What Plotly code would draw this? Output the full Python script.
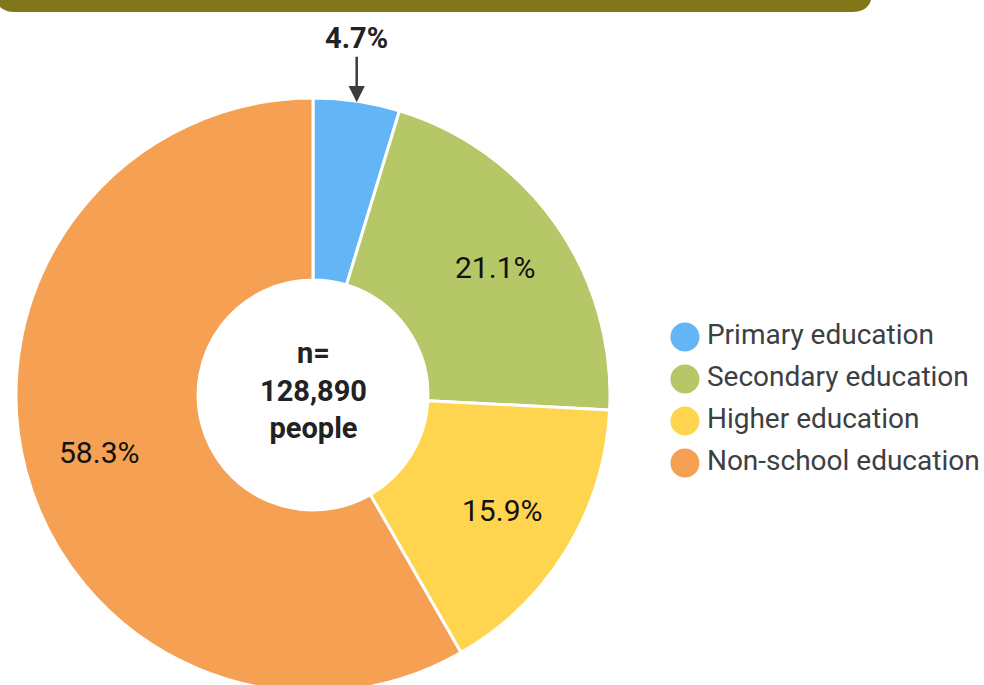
import math
import plotly.graph_objects as go

# ---- data ----
categories = ["Primary education", "Secondary education", "Higher education", "Non-school education"]
shares = [4.7, 21.1, 15.9, 58.3]
colors = ["#64B5F6", "#B5C766", "#FFD54F", "#F5A052"]
center_label = "n=<br>128,890<br>people"

W, H = 984, 700


def px(x):
    return x / W


def py(y):
    return 1 - y / H


cx, cy, r = 313, 395, 297

fig = go.Figure()
fig.add_trace(go.Pie(
    labels=categories, values=shares, sort=False, direction="clockwise", rotation=0,
    hole=0.387, marker=dict(colors=colors, line=dict(color="white", width=3)),
    textinfo="none",
    domain=dict(x=[px(cx - r), px(cx + r)], y=[py(cy + r), py(cy - r)]),
    showlegend=False, hoverinfo="label+percent",
))

# legend drawn as a scatter with big circle markers
fig.add_trace(go.Scatter(
    x=[0] * len(categories), y=categories, mode="markers+text",
    marker=dict(size=29, color=colors), text=["\u200a" + c for c in categories],
    textposition="middle right",
    textfont=dict(family="Roboto", size=28, color="#3C4043"),
    showlegend=False, hoverinfo="skip", cliponaxis=False,
))

# slice labels positioned along each slice's mid angle (computed from the data)
total = sum(shares)
cum = 0.0
for v in shares:
    mid = math.radians(360 * (cum + v / 2) / total)
    cum += v
    if v < 10:
        continue
    lr = 222
    fig.add_annotation(
        x=px(cx + lr * math.sin(mid)), y=py(cy - lr * math.cos(mid)), xref="paper", yref="paper",
        text=f"{v:.1f}%", showarrow=False, xanchor="center", yanchor="middle",
        font=dict(family="Roboto", size=30, color="#111111"),
    )

# centre label
fig.add_annotation(
    x=px(cx), y=py(cy), xref="paper", yref="paper", text="<b>" + center_label + "</b>",
    showarrow=False, xanchor="center", yanchor="middle", yshift=5,
    font=dict(family="Roboto", size=29, color="#222222"),
)

# small-slice callout computed from the data
mid_angle = math.radians(360 * (shares[0] / 2) / total)
tip_x = cx + r * math.sin(mid_angle)
tip_y = cy - r * math.cos(mid_angle)
fig.add_annotation(
    x=px(tip_x), y=py(tip_y + 1), xref="paper", yref="paper",
    text=f"<b>{shares[0]:.1f}%</b>", showarrow=True, ax=0, ay=-64,
    arrowhead=2, arrowsize=1.3, arrowwidth=2.5, arrowcolor="#3A3D40",
    font=dict(family="Roboto", size=29, color="#222222"), standoff=0,
)

# banner at top
rad = 20
x0, x1, y0, y1 = -5, 872, -40, 12
path = (f"M {px(x0)},{py(y0)} L {px(x1)},{py(y0)} L {px(x1)},{py(y1 - rad)} "
        f"Q {px(x1)},{py(y1)} {px(x1 - rad)},{py(y1)} L {px(x0 + rad)},{py(y1)} "
        f"Q {px(x0)},{py(y1)} {px(x0)},{py(y1 - rad)} Z")
fig.add_shape(type="path", path=path, xref="paper", yref="paper",
              fillcolor="#82761A", line=dict(width=0), layer="above")

fig.update_layout(
    width=W, height=H, margin=dict(l=0, r=0, t=0, b=0),
    paper_bgcolor="white", plot_bgcolor="white",
    xaxis=dict(domain=[px(670), 1], range=[-0.5, 10], visible=False, fixedrange=True),
    yaxis=dict(domain=[py(484), py(316)], type="category", categoryarray=categories,
               range=[3.5, -0.5], visible=False, fixedrange=True),
    font=dict(family="Roboto"),
)

fig.write_html("out.html", config={"displayModeBar": False},
               post_script="document.body.style.margin='0';document.body.style.overflow='hidden';")
